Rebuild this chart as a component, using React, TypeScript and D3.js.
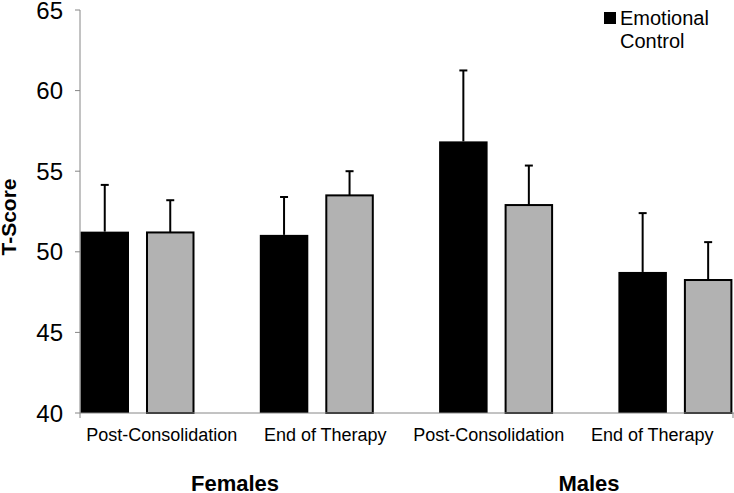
import React from "react";
import * as d3 from "d3";

const categories = ["F-Post", "F-End", "M-Post", "M-End"];
const categoryLabels = ["Post-Consolidation", "End of Therapy", "Post-Consolidation", "End of Therapy"];
const groups = ["Females", "Males"];
const seriesNames = ["Emotional Control", "Other"];
const emotionalControl = [51.25, 51.05, 56.85, 48.75];
const emotionalControlErr = [2.9, 2.35, 4.4, 3.65];
const secondSeries = [51.2, 53.5, 52.9, 48.25];
const secondSeriesErr = [2.0, 1.5, 2.45, 2.35];
const yTicks = [40, 45, 50, 55, 60, 65];

const W = 734;
const H = 493;
const FONT = "'Liberation Sans', Arial, sans-serif";

export default function App() {
  const y = d3.scaleLinear().domain([40, 65]).range([413, 10]);
  const x0 = d3.scaleBand<string>().domain(categories).range([80, 80 + 4 * 179.3]).paddingInner(0).paddingOuter(0);
  const x1 = d3.scaleBand<string>().domain(seriesNames).range([0.5, 114.5]).paddingInner(0.2595).paddingOuter(0);
  const labelX = d3.scaleBand<string>().domain(categories).range([80, 734]);
  const groupX = d3.scaleBand<string>().domain(groups).range([58, 766]);

  const series = [
    { name: seriesNames[0], values: emotionalControl, errs: emotionalControlErr, fill: "#000000", stroke: "none", sw: 0 },
    { name: seriesNames[1], values: secondSeries, errs: secondSeriesErr, fill: "#b2b2b2", stroke: "#000000", sw: 2 },
  ];

  const axisColor = "#868686";

  return (
    <svg width={W} height={H} style={{ position: "absolute", left: 0, top: 0, background: "#fff" }} fontFamily={FONT}>
      <rect x={0} y={0} width={W} height={H} fill="#ffffff" />
      {/* bars */}
      {series.map((s) =>
        categories.map((c, i) => {
          const bx = (x0(c) as number) + (x1(s.name) as number);
          const bw = x1.bandwidth();
          const top = y(s.values[i]);
          const inset = s.sw / 2;
          return (
            <rect
              key={s.name + c}
              x={bx + inset}
              y={top}
              width={bw - 2 * inset}
              height={y(40) - top}
              fill={s.fill}
              stroke={s.stroke}
              strokeWidth={s.sw}
            />
          );
        })
      )}
      {/* error bars */}
      {series.map((s) =>
        categories.map((c, i) => {
          const cx = (x0(c) as number) + (x1(s.name) as number) + x1.bandwidth() / 2;
          const top = y(s.values[i] + s.errs[i]);
          const base = y(s.values[i]);
          return (
            <g key={"e" + s.name + c} stroke="#000" strokeWidth={2}>
              <line x1={cx} x2={cx} y1={base} y2={top} />
              <line x1={cx - 4} x2={cx + 4} y1={top} y2={top} />
            </g>
          );
        })
      )}
      {/* y axis */}
      <line x1={80} x2={80} y1={y(65)} y2={y(40)} stroke={axisColor} strokeWidth={1} />
      {yTicks.map((t) => (
        <g key={t}>
          <line x1={75} x2={80} y1={y(t)} y2={y(t)} stroke={axisColor} strokeWidth={1} />
          <text x={63} y={y(t)} dy="0.36em" textAnchor="end" fontSize={24} fill="#000">
            {t}
          </text>
        </g>
      ))}
      {/* x axis */}
      <line x1={80} x2={W} y1={y(40)} y2={y(40)} stroke={axisColor} strokeWidth={1} />
      <line x1={80} x2={80} y1={y(40)} y2={y(40) + 5} stroke={axisColor} strokeWidth={1} />
      <line x1={733} x2={733} y1={y(40)} y2={y(40) + 5} stroke={axisColor} strokeWidth={1} />
      {categories.map((c, i) => (
        <text
          key={"l" + c}
          x={(labelX(c) as number) + labelX.bandwidth() / 2}
          y={441}
          textAnchor="middle"
          fontSize={18}
          fill="#000"
        >
          {categoryLabels[i]}
        </text>
      ))}
      {groups.map((g) => (
        <text
          key={g}
          x={(groupX(g) as number) + groupX.bandwidth() / 2}
          y={491}
          textAnchor="middle"
          fontSize={22}
          fontWeight="bold"
          fill="#000"
        >
          {g}
        </text>
      ))}
      {/* y title */}
      <text
        transform={`translate(15.5, ${217}) rotate(-90)`}
        textAnchor="middle"
        fontSize={21}
        fontWeight="bold"
        fill="#000"
      >
        T-Score
      </text>
      {/* legend */}
      <rect x={604} y={12} width={12} height={12} fill="#000" />
      <text x={620} y={25} fontSize={20} fill="#000">
        <tspan x={620}>Emotional</tspan>
        <tspan x={620} dy={23}>Control</tspan>
      </text>
    </svg>
  );
}
